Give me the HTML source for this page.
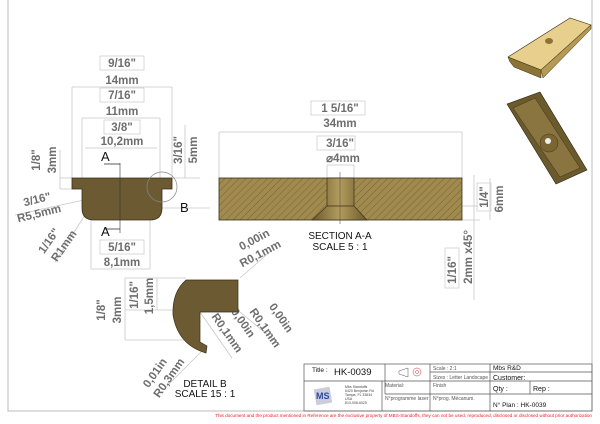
<!DOCTYPE html>
<html><head><meta charset="utf-8"><style>
html,body{margin:0;padding:0;background:#fff;}
svg{display:block;font-family:"Liberation Sans",sans-serif;}
.d{fill:#6e6e6e;font-weight:bold;font-size:11.5px;text-anchor:middle;}
.l{stroke:#c8c8c8;stroke-width:0.8;fill:none;}
.b{fill:none;stroke:#cfcfcf;stroke-width:0.8;}
.t{font-size:5px;fill:#555;}
</style></head><body>
<svg width="600" height="424" viewBox="0 0 600 424" xmlns="http://www.w3.org/2000/svg">
<defs>
<pattern id="h" width="5" height="5" patternUnits="userSpaceOnUse" patternTransform="rotate(45)">
<rect width="5" height="5" fill="#a08a4e"/><line x1="0" y1="0" x2="0" y2="5" stroke="#6b5a30" stroke-width="0.8"/>
</pattern>
<linearGradient id="g" x1="0" x2="1"><stop offset="0" stop-color="#6d5a2c"/><stop offset="0.5" stop-color="#b29c5e"/><stop offset="1" stop-color="#6d5a2c"/></linearGradient>
</defs>
<!-- border -->
<polyline points="8,0 8,411 592,411 592,0" fill="none" stroke="#bbb" stroke-width="1"/>

<!-- front view dims -->
<g class="l">
<line x1="72" y1="87" x2="172" y2="87"/><line x1="72" y1="87" x2="72" y2="178"/><line x1="172" y1="87" x2="172" y2="178"/>
<line x1="82" y1="118" x2="160" y2="118"/><line x1="82" y1="118" x2="82" y2="189"/><line x1="160" y1="118" x2="160" y2="189"/>
<line x1="85" y1="148" x2="157" y2="148"/>
<line x1="91" y1="269" x2="150" y2="269"/><line x1="91" y1="220" x2="91" y2="269"/><line x1="150" y1="220" x2="150" y2="269"/>
<line x1="60" y1="178" x2="72" y2="178"/><line x1="60" y1="189" x2="82" y2="189"/><line x1="60" y1="150" x2="60" y2="189"/>
<line x1="172" y1="178" x2="200" y2="178"/><line x1="185" y1="125" x2="185" y2="178"/>
<line x1="162" y1="208" x2="210" y2="208"/>
<line x1="15" y1="215" x2="84" y2="200"/><line x1="55" y1="262" x2="85" y2="215"/>
</g>
<g class="d">
<text x="122" y="67">9/16"</text><text x="122" y="84">14mm</text>
<text x="122" y="99">7/16"</text><text x="122" y="115">11mm</text>
<text x="122" y="131">3/8"</text><text x="122" y="145">10,2mm</text>
<text x="122" y="251">5/16"</text><text x="122" y="266">8,1mm</text>
<text transform="translate(40,160) rotate(-90)">1/8"</text>
<text transform="translate(56,160) rotate(-90)">3mm</text>
<text transform="translate(182,150) rotate(-90)">3/16"</text>
<text transform="translate(197,150) rotate(-90)">5mm</text>
<text transform="translate(38,203) rotate(-14)">3/16"</text>
<text transform="translate(40,217) rotate(-14)">R5,5mm</text>
<text transform="translate(52,243) rotate(-55)">1/16"</text>
<text transform="translate(67,248) rotate(-55)">R1mm</text>
</g>
<rect class="b" x="100" y="56" width="44" height="14"/>
<rect class="b" x="100" y="88" width="44" height="14"/>
<rect class="b" x="104" y="120" width="36" height="14"/>
<rect class="b" x="100" y="240" width="44" height="14"/>
<!-- part -->
<path d="M72,178 H172 V189 H162 V208 Q162,220 150,220 H94 Q82,220 82,208 V189 H72 Z" fill="#6b5a32" stroke="#3a2f18" stroke-width="0.8"/>
<line x1="120" y1="163" x2="120" y2="233" stroke="#333" stroke-width="0.6"/>
<line x1="104" y1="164" x2="120" y2="164" stroke="#333" stroke-width="0.8"/>
<line x1="104" y1="229" x2="120" y2="229" stroke="#333" stroke-width="0.8"/>
<text x="101" y="161" font-size="13" fill="#111">A</text>
<text x="101" y="236" font-size="13" fill="#111">A</text>
<circle cx="162" cy="187" r="15" fill="none" stroke="#888" stroke-width="0.7"/>
<text x="180" y="212" font-size="13" fill="#111">B</text>

<!-- section A-A -->
<g class="l">
<line x1="219" y1="132" x2="462" y2="132"/><line x1="219" y1="132" x2="219" y2="178"/><line x1="462" y1="132" x2="462" y2="178"/>
<line x1="327" y1="165" x2="354" y2="165"/><line x1="327" y1="165" x2="327" y2="178"/><line x1="354" y1="165" x2="354" y2="178"/>
<line x1="462" y1="206" x2="478" y2="206"/><line x1="474" y1="175" x2="474" y2="300"/>
<line x1="462" y1="220" x2="480" y2="220"/><line x1="490" y1="178" x2="490" y2="220"/>
</g>
<g class="d">
<text x="340" y="112">1 5/16"</text><text x="340" y="127">34mm</text>
<text x="340" y="147">3/16"</text><text x="343" y="162">⌀4mm</text>
<text transform="translate(488,197) rotate(-90)">1/4"</text>
<text transform="translate(503,199) rotate(-90)">6mm</text>
<text transform="translate(456,270) rotate(-90)">1/16"</text>
<text transform="translate(472,257) rotate(-90)">2mm x45°</text>
</g>
<rect class="b" x="311" y="101" width="54" height="14"/>
<rect class="b" x="317" y="136" width="38" height="14"/>
<rect class="b" x="477" y="183" width="14" height="28"/>
<rect class="b" x="445" y="248" width="14" height="40"/>
<rect x="219" y="178" width="243" height="42" fill="url(#h)" stroke="#3a2f18" stroke-width="0.8"/>
<path d="M327,178 H354 V206 L367,220 H312 L327,206 Z" fill="url(#g)" stroke="#3a2f18" stroke-width="0.7"/>
<line x1="327" y1="206" x2="354" y2="206" stroke="#3a2f18" stroke-width="0.7"/>
<line x1="340" y1="172" x2="340" y2="224" stroke="#444" stroke-width="0.5"/>
<text x="340" y="239" font-size="10" fill="#111" text-anchor="middle">SECTION A-A</text>
<text x="340" y="250" font-size="10" fill="#111" text-anchor="middle">SCALE 5 : 1</text>

<!-- detail B -->
<g class="l">
<line x1="125" y1="278" x2="186" y2="278"/><line x1="125" y1="310" x2="172" y2="310"/><line x1="125" y1="340" x2="200" y2="340"/>
<line x1="125" y1="278" x2="125" y2="340"/><line x1="157" y1="278" x2="157" y2="310"/>
<line x1="240" y1="278" x2="272" y2="250"/><line x1="240" y1="312" x2="280" y2="345"/>
<line x1="200" y1="312" x2="232" y2="358"/><line x1="205" y1="348" x2="165" y2="388"/>
</g>
<g class="d">
<text transform="translate(105,310) rotate(-90)">1/8"</text>
<text transform="translate(121,310) rotate(-90)">3mm</text>
<text transform="translate(138,295) rotate(-90)">1/16"</text>
<text transform="translate(153,296) rotate(-90)">1,5mm</text>
<text transform="translate(256,243) rotate(-28)">0,00in</text>
<text transform="translate(262,257) rotate(-28)">R0,1mm</text>
<text transform="translate(278,320) rotate(55)">0,00in</text>
<text transform="translate(262,330) rotate(55)">R0,1mm</text>
<text transform="translate(240,325) rotate(55)">0,00in</text>
<text transform="translate(224,335) rotate(55)">R0,1mm</text>
<text transform="translate(158,375) rotate(-55)">0,01in</text>
<text transform="translate(172,380) rotate(-55)">R0,3mm</text>
</g>
<path d="M186,280 L238,280 L238,312 L200,312 L200,342 L207,346 L206,353 Q178,345 173,315 Q172,292 186,280 Z" fill="#6b5a32" stroke="#3a2f18" stroke-width="0.7"/>
<text x="205" y="387" font-size="10" fill="#111" text-anchor="middle">DETAIL B</text>
<text x="205" y="397" font-size="10" fill="#111" text-anchor="middle">SCALE 15 : 1</text>

<!-- 3D views -->
<path d="M508,57 L570,18 L591,25 L541,70 Z" fill="#e8cf8e" stroke="#3a2f18" stroke-width="0.6"/>
<path d="M508,57 L541,70 L541,78 L514,67 L510,62 Z" fill="#8c7436" stroke="#3a2f18" stroke-width="0.5"/>
<path d="M541,70 L591,25 L591,29 L543,78 Z" fill="#b59a55" stroke="#3a2f18" stroke-width="0.5"/>
<ellipse cx="549" cy="41" rx="4" ry="3" fill="#8a7335"/>
<path d="M507,104 L540,92 L587,170 L556,184 Z" fill="#6b5a2c" stroke="#2c2412" stroke-width="0.6"/>
<path d="M513,108 L535,98 L580,168 L560,177 Z" fill="#8a7540" stroke="#2c2412" stroke-width="0.4"/>
<circle cx="549" cy="143" r="9" fill="#7a6533" stroke="#2c2412" stroke-width="0.4"/>
<ellipse cx="548" cy="141" rx="3" ry="3" fill="#eee"/>

<!-- title block -->
<g fill="none" stroke="#555" stroke-width="0.7">
<rect x="304" y="364" width="288" height="47"/>
<line x1="304" y1="381" x2="592" y2="381"/>
<line x1="385" y1="364" x2="385" y2="394"/>
<line x1="430" y1="364" x2="430" y2="411"/>
<line x1="490" y1="364" x2="490" y2="411"/>
<line x1="430" y1="372" x2="592" y2="372"/>
<line x1="385" y1="394" x2="592" y2="394"/>
<line x1="530" y1="381" x2="530" y2="394"/>
<line x1="382" y1="381" x2="382" y2="411"/>
</g>
<text x="312" y="372" font-size="6.5" fill="#111">Title :</text>
<text x="334" y="375" font-size="9.5" fill="#111">HK-0039</text>
<path d="M399,371 L408,368 L408,377 L399,374 Z" fill="none" stroke="#555" stroke-width="0.5"/>
<circle cx="417" cy="372" r="4" fill="none" stroke="#c33" stroke-width="0.5"/>
<circle cx="417" cy="372" r="1.5" fill="none" stroke="#c33" stroke-width="0.5"/>
<text x="433" y="370" class="t">Scale : 2:1</text>
<text x="433" y="379" class="t">Sizes : Letter Landscape</text>
<text x="493" y="370" font-size="6.5" fill="#111">Mbs R&amp;D</text>
<text x="493" y="380" font-size="7" fill="#111">Customer:</text>
<text x="493" y="391" font-size="7" fill="#111">Qty :</text>
<text x="533" y="391" font-size="7" fill="#111">Rep :</text>
<text x="493" y="407" font-size="6.5" fill="#111">N° Plan : HK-0039</text>
<text x="385" y="387" class="t">Material:</text>
<text x="433" y="387" class="t">Finish</text>
<text x="385" y="400" class="t">N°programme laser</text>
<text x="433" y="400" class="t">N°prog. Mécanum.</text>
<rect x="315" y="388" width="16" height="16" fill="#ccd" transform="rotate(-10 323 396)"/>
<text x="316" y="399" font-size="9" font-weight="bold" fill="#2a4a9a">MS</text>
<text x="345" y="388" font-size="3.5" fill="#444">Mbs Standoffs</text>
<text x="345" y="392" font-size="3.5" fill="#444">6420 Benjamin Rd</text>
<text x="345" y="396" font-size="3.5" fill="#444">Tampa, FL 33634</text>
<text x="345" y="400" font-size="3.5" fill="#444">USA</text>
<text x="345" y="404" font-size="3.5" fill="#444">813-908-6025</text>
<text x="592" y="417" font-size="4.6" fill="#e22" text-anchor="end">This document and the product mentioned in Reference are the exclusive property of MBS-Standoffs, they can not be used, reproduced, disclosed or disclosed without prior authorization</text>
</svg>
</body></html>
